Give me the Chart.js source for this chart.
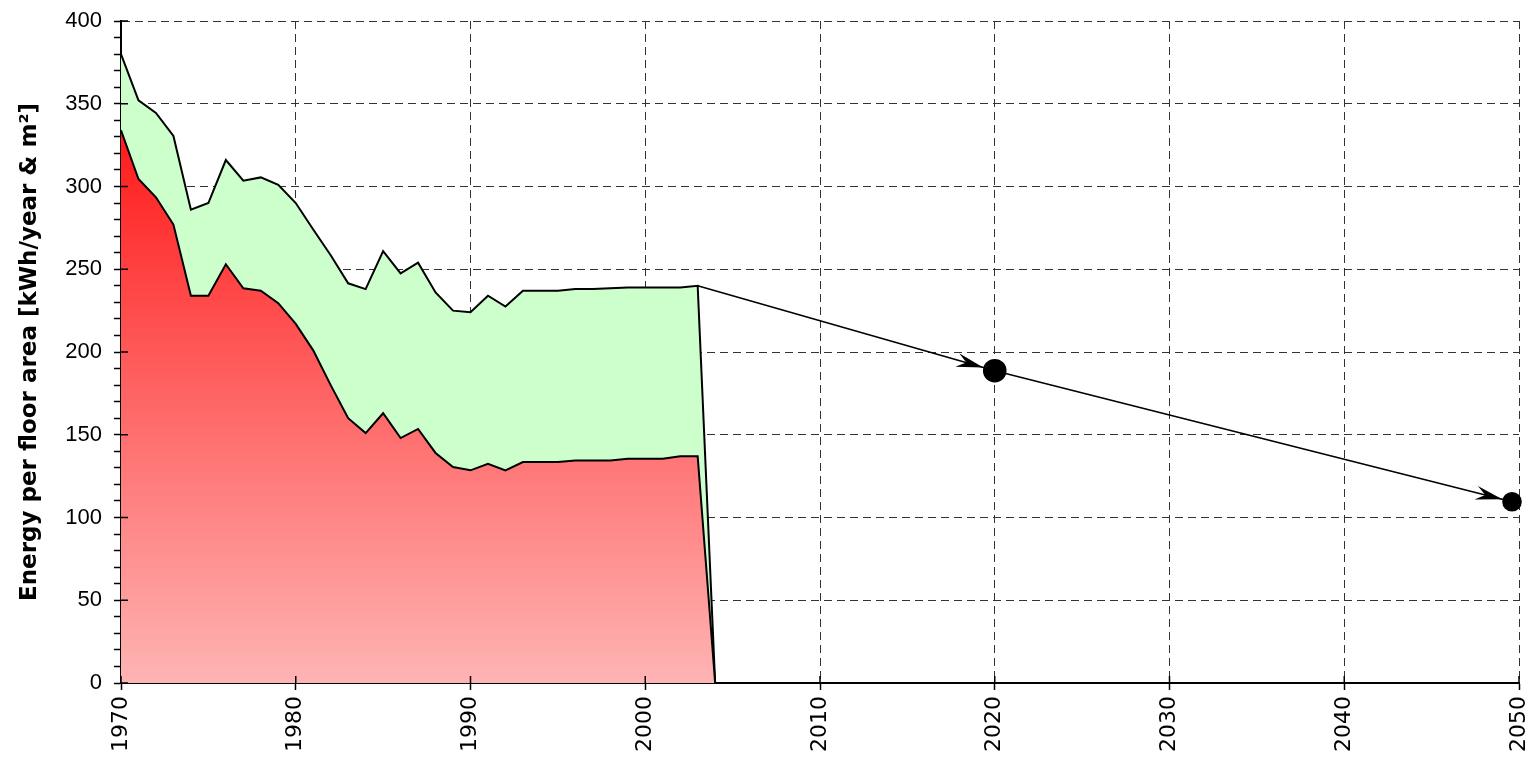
<!DOCTYPE html>
<html>
<head>
<meta charset="utf-8">
<script src="https://cdn.jsdelivr.net/npm/chart.js@4.4.1/dist/chart.umd.min.js"></script>
<style>
  html, body { margin: 0; padding: 0; background: #fff; }
  #wrap { width: 1534px; height: 759px; position: relative; }
</style>
</head>
<body>
<div id="wrap"><canvas id="energyChart"></canvas></div>
<script>
// years with measured values
const years = [1970, 1971, 1972, 1973, 1974, 1975, 1976, 1977, 1978, 1979,
               1980, 1981, 1982, 1983, 1984, 1985, 1986, 1987, 1988, 1989,
               1990, 1991, 1992, 1993, 1994, 1995, 1996, 1997, 1998, 1999,
               2000, 2001, 2002, 2003, 2004];
// lower (red) part
const heating = [334, 304.5, 293.5, 277, 234, 234, 253, 238.5, 237, 229.5,
                 217, 201, 180, 160, 151, 163, 148, 153.5, 139, 130.5,
                 128.5, 132.5, 128.5, 133.5, 133.5, 133.5, 134.5, 134.5, 134.5, 135.5,
                 135.5, 135.5, 137, 137, 0];
// upper line (total)
const total = [380, 352, 344.5, 330.5, 286, 290, 316, 303.5, 305.5, 301,
               290, 274, 258.5, 241.5, 238, 261, 247.5, 254, 236, 225,
               224, 234, 227.5, 237, 237, 237, 238, 238, 238.5, 239,
               239, 239, 239, 240, 0];
// target path
const targetYears = [2003, 2020, 2049.6];
const targetValues = [240, 188.7, 109.5];

const xTicks = [1970, 1980, 1990, 2000, 2010, 2020, 2030, 2040, 2050];

const toPoints = (xs, ys) => xs.map((x, i) => ({ x: x, y: ys[i] }));

// arrowheads on the target line + tick marks that cross into the plot
const extrasPlugin = {
    id: 'extras',
    afterDatasetsDraw(chart) {
        const ctx = chart.ctx;
        const meta = chart.getDatasetMeta(2);
        const radii = [0, 11, 9];
        ctx.save();
        ctx.fillStyle = '#000';
        for (let i = 1; i < meta.data.length; i++) {
            const p0 = meta.data[i - 1], p1 = meta.data[i];
            const dx = p1.x - p0.x, dy = p1.y - p0.y;
            const len = Math.hypot(dx, dy);
            const ux = dx / len, uy = dy / len;
            const px = -uy, py = ux;
            const tx = p1.x - ux * (radii[i] + 1), ty = p1.y - uy * (radii[i] + 1);
            const L = 27, W = 7;
            ctx.beginPath();
            ctx.moveTo(tx, ty);
            ctx.lineTo(tx - ux * L + px * W, ty - uy * L + py * W);
            ctx.lineTo(tx - ux * L * 0.65, ty - uy * L * 0.65);
            ctx.lineTo(tx - ux * L - px * W, ty - uy * L - py * W);
            ctx.closePath();
            ctx.fill();
        }
        // inner halves of major ticks
        const xs = chart.scales.x, ys = chart.scales.y;
        ctx.strokeStyle = '#000';
        ctx.lineWidth = 1.5;
        ctx.beginPath();
        for (let v = 0; v <= 400; v += 50) {
            const y = ys.getPixelForValue(v);
            ctx.moveTo(xs.left, y);
            ctx.lineTo(xs.left + 7, y);
        }
        xTicks.forEach(v => {
            const x = xs.getPixelForValue(v);
            ctx.moveTo(x, ys.bottom);
            ctx.lineTo(x, ys.bottom - 7);
        });
        ctx.stroke();
        ctx.restore();
    }
};

const ctx = document.getElementById('energyChart');
new Chart(ctx.getContext('2d'), {
    type: 'line',
    data: {
        datasets: [
            {
                label: 'Heating',
                data: toPoints(years, heating),
                borderColor: '#000',
                borderWidth: 2,
                pointRadius: 0,
                tension: 0,
                fill: 'origin',
                backgroundColor: function (context) {
                    const chart = context.chart;
                    const area = chart.chartArea;
                    if (!area) return '#ff6060';
                    const top = chart.scales.y.getPixelForValue(334);
                    const g = chart.ctx.createLinearGradient(0, top, 0, area.bottom);
                    g.addColorStop(0, '#ff1a1a');
                    g.addColorStop(1, '#ffb4b4');
                    return g;
                }
            },
            {
                label: 'Total',
                data: toPoints(years, total),
                borderColor: '#000',
                borderWidth: 2,
                pointRadius: 0,
                tension: 0,
                fill: '-1',
                backgroundColor: '#ccffcc'
            },
            {
                label: 'Target',
                data: toPoints(targetYears, targetValues),
                borderColor: '#000',
                borderWidth: 1.6,
                pointRadius: [0, 11, 9],
                pointBackgroundColor: '#000',
                pointBorderColor: '#000',
                tension: 0,
                fill: false,
                clip: false
            }
        ]
    },
    options: {
        responsive: true,
        maintainAspectRatio: false,
        animation: false,
        events: [],
        layout: { padding: { top: 21, right: 15, left: 0, bottom: 0 } },
        plugins: {
            legend: { display: false },
            tooltip: { enabled: false }
        },
        scales: {
            x: {
                type: 'linear',
                min: 1970,
                max: 2050,
                afterBuildTicks: (scale) => { scale.ticks = xTicks.map(v => ({ value: v })); },
                afterFit: (scale) => {
                    scale.height = 76;
                    scale.paddingLeft = 0;
                    scale.paddingRight = 0;
                },
                ticks: {
                    minRotation: 90,
                    maxRotation: 90,
                    padding: 6,
                    color: '#000',
                    font: { family: 'DejaVu Sans', size: 22 },
                    callback: (v) => String(v)
                },
                grid: {
                    color: '#333',
                    lineWidth: 1,
                    tickLength: 7,
                    tickColor: '#000',
                    tickWidth: 1.5
                },
                border: { display: true, color: '#000', width: 2, dash: [8, 5] }
            },
            y: {
                min: 0,
                max: 400,
                afterFit: (scale) => {
                    scale.width = 121;
                    scale.paddingTop = 0;
                    scale.paddingBottom = 0;
                },
                ticks: {
                    stepSize: 10,
                    autoSkip: false,
                    padding: 12,
                    color: '#000',
                    font: { family: 'Liberation Sans', size: 22 },
                    callback: (v) => (v % 50 === 0 ? String(v) : '')
                },
                grid: {
                    color: (c) => (c.tick && c.tick.value % 50 === 0 ? '#333' : 'rgba(0,0,0,0)'),
                    lineWidth: 1,
                    tickLength: 7,
                    tickColor: '#000',
                    tickWidth: 1.5
                },
                border: { display: true, color: '#000', width: 2, dash: [8, 5] },
                title: {
                    display: true,
                    text: 'Energy per floor area [kWh/year & m²]',
                    color: '#000',
                    font: { family: 'DejaVu Sans', size: 23, weight: 'bold' },
                    padding: { top: 16, bottom: 0 }
                }
            }
        }
    },
    plugins: [extrasPlugin]
});
</script>
</body>
</html>
